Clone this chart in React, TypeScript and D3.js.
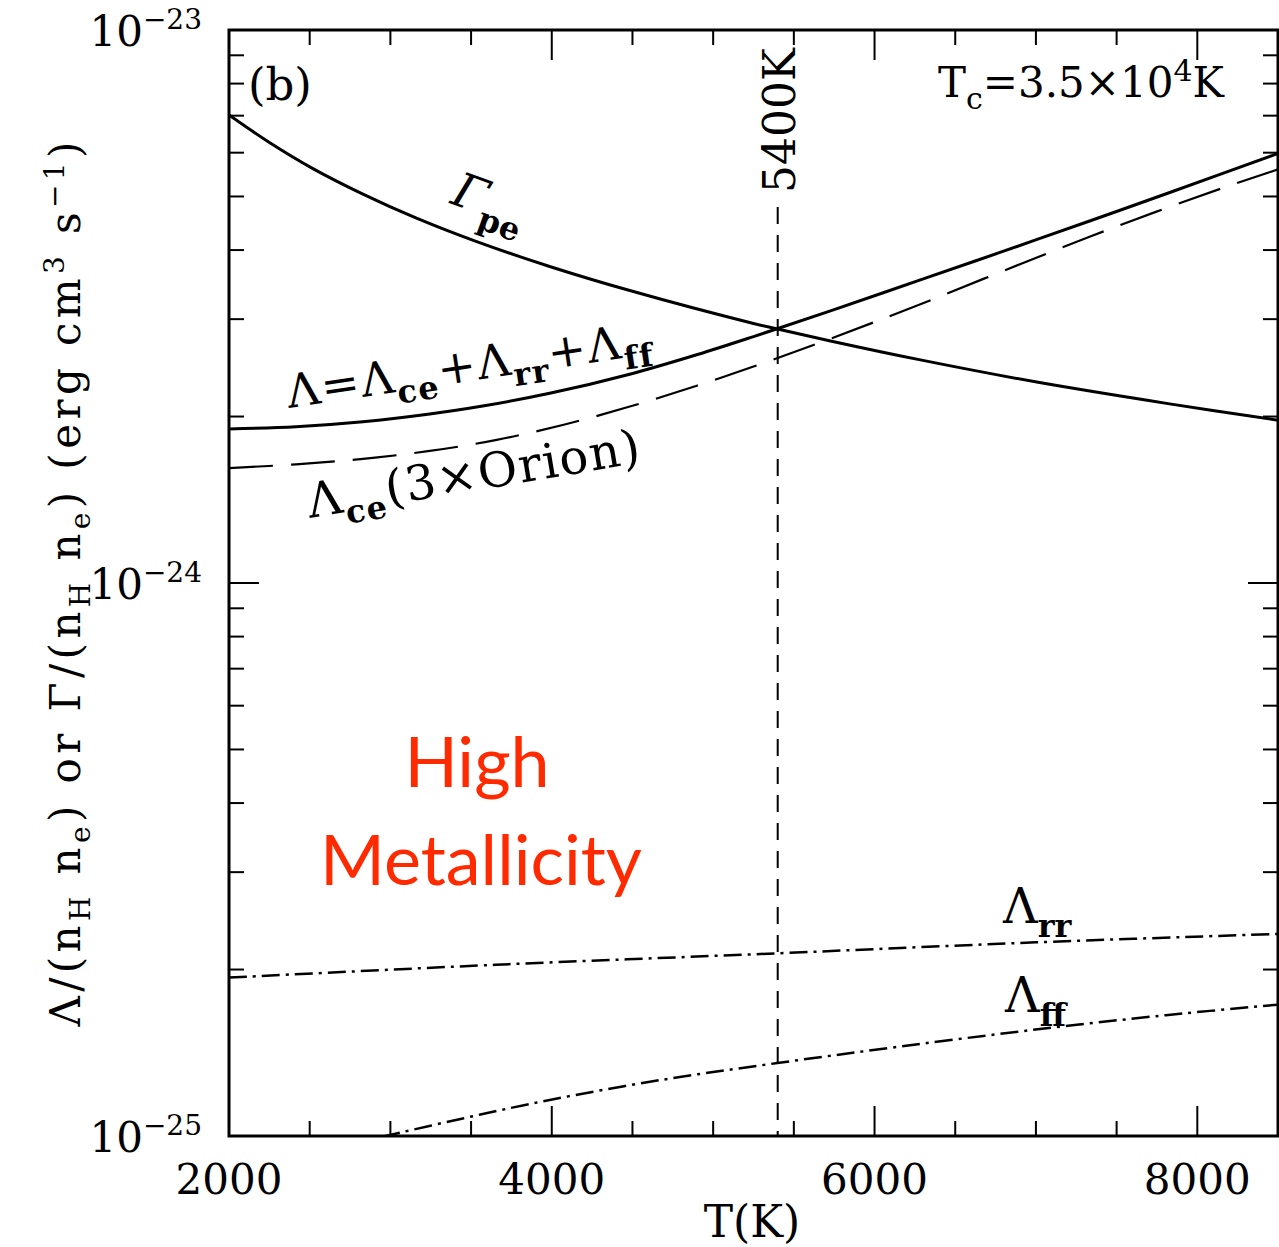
import React from "react";
import * as d3 from "d3";

// ---- data ----
const T_GAMMA = [2000, 2248, 2520, 2830, 3158, 3535, 3987, 4489, 5250, 5392, 5727, 6284, 7014, 7838, 8500];
const GAMMA_PE = [7.02e-24, 6.267e-24, 5.615e-24, 5.049e-24, 4.572e-24, 4.142e-24, 3.736e-24, 3.376e-24, 2.947e-24, 2.883e-24, 2.74e-24, 2.532e-24, 2.306e-24, 2.106e-24, 1.97e-24];

const T_LAMBDA = [2000, 2415, 2830, 3244, 3572, 3987, 4489, 4903, 5250, 5392, 5727, 6284, 6804, 7324, 7838, 8500];
const LAMBDA_TOT = [1.899e-24, 1.917e-24, 1.957e-24, 2.021e-24, 2.089e-24, 2.203e-24, 2.388e-24, 2.589e-24, 2.79e-24, 2.88e-24, 3.105e-24, 3.532e-24, 3.986e-24, 4.505e-24, 5.094e-24, 5.979e-24];

const T_CE = [2000, 2415, 2830, 3244, 3659, 4074, 4489, 4903, 5250, 5727, 6284, 6909, 7528, 8153, 8500];
const LAMBDA_CE = [1.614e-24, 1.639e-24, 1.677e-24, 1.733e-24, 1.815e-24, 1.933e-24, 2.087e-24, 2.276e-24, 2.463e-24, 2.765e-24, 3.193e-24, 3.779e-24, 4.445e-24, 5.174e-24, 5.597e-24];

const T_RR = [2000, 3650, 5400, 7000, 8500];
const LAMBDA_RR = [1.934e-25, 2.04e-25, 2.14e-25, 2.24e-25, 2.32e-25];

const T_FF = [2950, 3449, 3987, 4693, 5398, 6148, 6977, 7806, 8500];
const LAMBDA_FF = [0.997e-25, 1.076e-25, 1.162e-25, 1.265e-25, 1.355e-25, 1.45e-25, 1.555e-25, 1.654e-25, 1.728e-25];

const T_MARK = 5400;
const X_TICK_LABELS = [2000, 4000, 6000, 8000];
const Y_DECADES = [-25, -24, -23];

const SERIF = "'DejaVu Serif', serif";

export default function App() {
  const W = 1279, H = 1247;
  const L = 229, R = 1278, TOP = 30, BOT = 1136;
  const x = d3.scaleLinear().domain([2000, 8500]).range([L, R]);
  const y = d3.scaleLog().domain([1e-25, 1e-23]).range([BOT, TOP]);

  const line = (ts: number[], vs: number[]) =>
    d3.line<number>()
      .x((_, i) => x(ts[i]))
      .y((v) => y(v))
      .curve(d3.curveCatmullRom.alpha(0.5))(vs) || "";

  const xMinor = d3.range(2000, 8501, 500);
  const xMajor = d3.range(2000, 8501, 2000);
  const yMinor: number[] = [];
  for (const d of [-25, -24]) for (let m = 2; m <= 9; m++) yMinor.push(m * Math.pow(10, d));
  const yMajor = Y_DECADES.map((d) => Math.pow(10, d));

  const tickStroke = { stroke: "#000", strokeWidth: 2 };

  return (
    <svg width={W} height={H} style={{ position: "absolute", left: 0, top: 0, background: "#fff" }} fontFamily={SERIF}>
      <defs>
        <clipPath id="plot">
          <rect x={L} y={TOP} width={R - L} height={BOT - TOP} />
        </clipPath>
      </defs>
      <rect x={0} y={0} width={W} height={H} fill="#fff" />

      {/* ticks */}
      {xMinor.map((t) => {
        const len = xMajor.includes(t) ? 30 : 15;
        return (
          <g key={"xt" + t}>
            <line x1={x(t)} x2={x(t)} y1={BOT} y2={BOT - len} {...tickStroke} />
            <line x1={x(t)} x2={x(t)} y1={TOP} y2={TOP + len} {...tickStroke} />
          </g>
        );
      })}
      {yMinor.map((v, i) => (
        <g key={"ym" + i}>
          <line x1={L} x2={L + 15} y1={y(v)} y2={y(v)} {...tickStroke} />
          <line x1={R} x2={R - 15} y1={y(v)} y2={y(v)} {...tickStroke} />
        </g>
      ))}
      {yMajor.map((v, i) => (
        <g key={"yM" + i}>
          <line x1={L} x2={L + 30} y1={y(v)} y2={y(v)} {...tickStroke} />
          <line x1={R} x2={R - 30} y1={y(v)} y2={y(v)} {...tickStroke} />
        </g>
      ))}

      {/* curves */}
      <g clipPath="url(#plot)" fill="none" stroke="#000">
        <path d={line(T_GAMMA, GAMMA_PE)} strokeWidth={3} />
        <path d={line(T_LAMBDA, LAMBDA_TOT)} strokeWidth={3} />
        <path d={line(T_CE, LAMBDA_CE)} strokeWidth={2.2} strokeDasharray="44,18" />
        <path d={line(T_RR, LAMBDA_RR)} strokeWidth={2.5} strokeDasharray="18,6,3,6" />
        <path d={line(T_FF, LAMBDA_FF)} strokeWidth={2.5} strokeDasharray="18,6,3,6" />
        <line x1={x(T_MARK)} x2={x(T_MARK)} y1={207} y2={BOT} strokeWidth={2} strokeDasharray="17,11" />
      </g>

      {/* frame */}
      <rect x={L} y={TOP} width={R - L} height={BOT - TOP} fill="none" stroke="#000" strokeWidth={3} />

      {/* x tick labels */}
      {X_TICK_LABELS.map((t) => (
        <text key={"xl" + t} x={x(t)} y={1194} textAnchor="middle" fontSize={42}>
          {t}
        </text>
      ))}
      <text x={752} y={1237} textAnchor="middle" fontSize={44}>T(K)</text>

      {/* y tick labels */}
      {Y_DECADES.map((d) => (
        <text key={"yl" + d} x={202} y={y(Math.pow(10, d)) + 16} textAnchor="end" fontSize={42}>
          10<tspan dy={-17} fontSize={28}>{"\u2212" + Math.abs(d)}</tspan>
        </text>
      ))}

      {/* y title */}
      <text transform="translate(80,584) rotate(-90)" textAnchor="middle" fontSize={42} textLength={885} lengthAdjust="spacing">
        Λ/(n<tspan dy={10} fontSize={28}>H</tspan><tspan dy={-10}> n</tspan><tspan dy={10} fontSize={28}>e</tspan><tspan dy={-10}>) or Γ/(n</tspan><tspan dy={10} fontSize={28}>H</tspan><tspan dy={-10}> n</tspan><tspan dy={10} fontSize={28}>e</tspan><tspan dy={-10}>) (erg cm</tspan><tspan dy={-16} fontSize={28}>3</tspan><tspan dy={16}> s</tspan><tspan dy={-16} fontSize={28}>−1</tspan><tspan dy={16}>)</tspan>
      </text>

      {/* panel label */}
      <text x={248} y={100} fontSize={45}>(b)</text>

      {/* Tc */}
      <text x={938} y={97} fontSize={42}>
        T<tspan dy={12} fontSize={30}>c</tspan><tspan dy={-12}>=3.5×10</tspan><tspan dy={-16} fontSize={30}>4</tspan><tspan dy={16}>K</tspan>
      </text>

      {/* 5400K */}
      <text transform={`translate(${x(T_MARK) + 17},193) rotate(-90)`} fontSize={44}>5400K</text>

      {/* Gamma_pe label */}
      <text transform="translate(449,203) rotate(20)" fontSize={48}>
        <tspan fontStyle="italic">Γ</tspan><tspan dy={14} fontSize={32} fontWeight="bold">pe</tspan>
      </text>

      {/* Lambda total label */}
      <text transform="translate(289,408) rotate(-8.5)" fontSize={46} letterSpacing={1.5}>
        Λ=Λ<tspan dy={12} fontSize={32} fontWeight="bold">ce</tspan><tspan dy={-12}>+Λ</tspan><tspan dy={12} fontSize={32} fontWeight="bold">rr</tspan><tspan dy={-12}>+Λ</tspan><tspan dy={12} fontSize={32} fontWeight="bold">ff</tspan>
      </text>

      {/* Lambda_ce label */}
      <text transform="translate(310,518) rotate(-9.5)" fontSize={48} letterSpacing={1.5}>
        Λ<tspan dy={12} fontSize={32} fontWeight="bold">ce</tspan><tspan dy={-12}>(3×Orion)</tspan>
      </text>

      {/* Lambda_rr, Lambda_ff labels */}
      <text x={1003} y={923} fontSize={48}>
        Λ<tspan dy={14} fontSize={32} fontWeight="bold">rr</tspan>
      </text>
      <text x={1005} y={1012} fontSize={48}>
        Λ<tspan dy={14} fontSize={32} fontWeight="bold">ff</tspan>
      </text>

      {/* High Metallicity */}
      <g fill="#ff2a00" fontFamily="Lato, 'Open Sans', sans-serif" fontSize={70} textAnchor="middle">
        <text x={477} y={787}>High</text>
        <text x={481} y={885}>Metallicity</text>
      </g>
    </svg>
  );
}
